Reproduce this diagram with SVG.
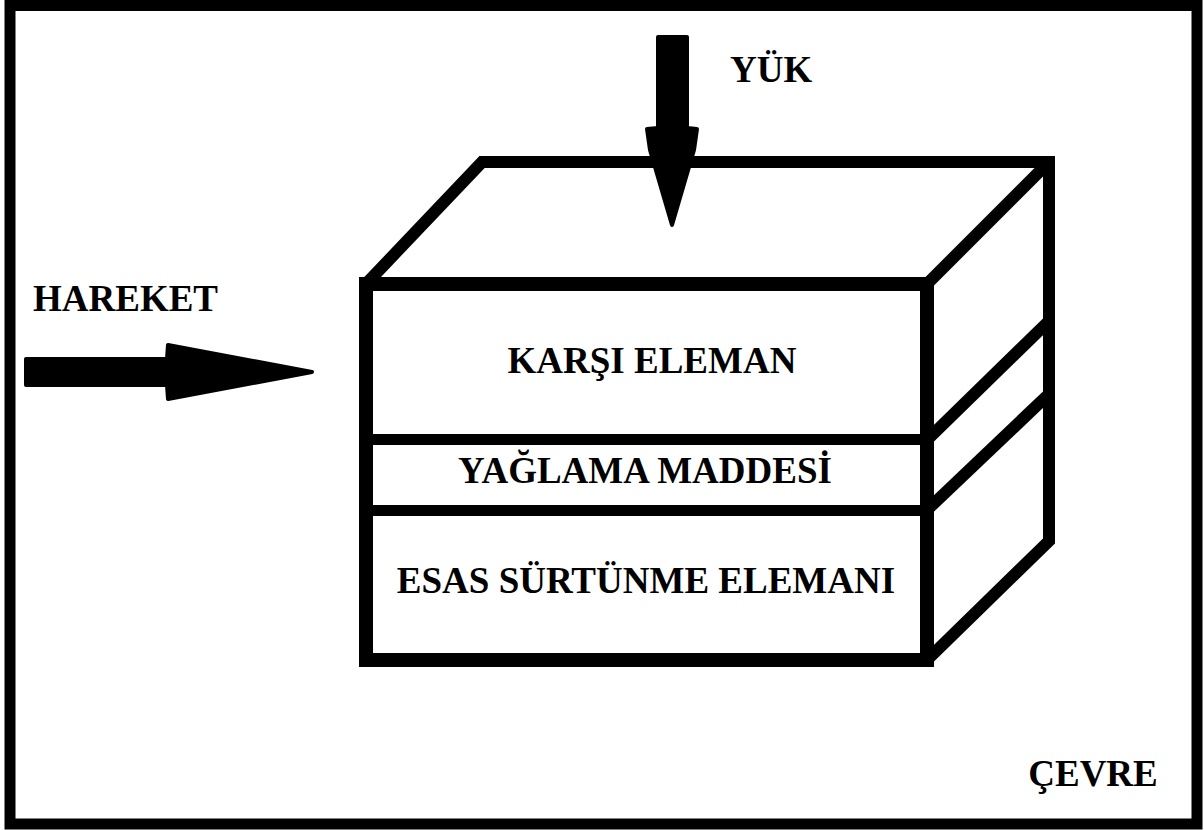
<svg xmlns="http://www.w3.org/2000/svg" width="1204" height="830" viewBox="0 0 1204 830">
<style>
.lbl{font-family:"Liberation Serif","Times New Roman",serif;font-weight:bold;font-size:37px;fill:#000}
.thick{fill:none;stroke:#000;stroke-width:14;stroke-linejoin:miter}
.thin{fill:none;stroke:#000;stroke-width:12;stroke-linejoin:miter}
.arrow{fill:#000;stroke:#000;stroke-width:4;stroke-linejoin:round}
</style>
<rect x="0" y="0" width="1204" height="830" fill="#fff"/>
<g id="frame">
<rect x="10" y="5.5" width="1187" height="818.5" fill="none" stroke="#000" stroke-width="11"/>
<text class="lbl" x="1093" y="786" text-anchor="middle">ÇEVRE</text>
</g>
<g id="box">
<path class="thin" d="M366,284 L482,162 L1049,162 L1049,541 L927,660"/>
<path class="thin" d="M927,284 L1049,162"/>
<path class="thin" d="M927,440 L1049,321"/>
<path class="thin" d="M927,510 L1049,394"/>
<rect class="thick" x="366" y="284" width="561" height="376"/>
<line x1="366" y1="439.5" x2="927" y2="439.5" stroke="#000" stroke-width="11"/>
<line x1="366" y1="510.5" x2="927" y2="510.5" stroke="#000" stroke-width="11"/>
</g>
<g id="karsi-eleman"><text class="lbl" x="652" y="373" text-anchor="middle">KARŞI ELEMAN</text></g>
<g id="yaglama-maddesi"><text class="lbl" x="645" y="483" text-anchor="middle">YAĞLAMA MADDESİ</text></g>
<g id="esas-surtunme"><text class="lbl" x="646" y="593" text-anchor="middle">ESAS SÜRTÜNME ELEMANI</text></g>
<g id="connectors">
<polygon class="arrow" points="26,359 167,359 168,345 312,372 168,399 167,385 26,385"/>
<polygon class="arrow" points="658,37 687,37 687,128 697,129 694,150 672,225 650,150 647,129 658,128"/>
</g>
<g id="hareket"><text class="lbl" x="33" y="311">HAREKET</text></g>
<g id="yuk"><text class="lbl" x="730" y="82">YÜK</text></g>
</svg>
